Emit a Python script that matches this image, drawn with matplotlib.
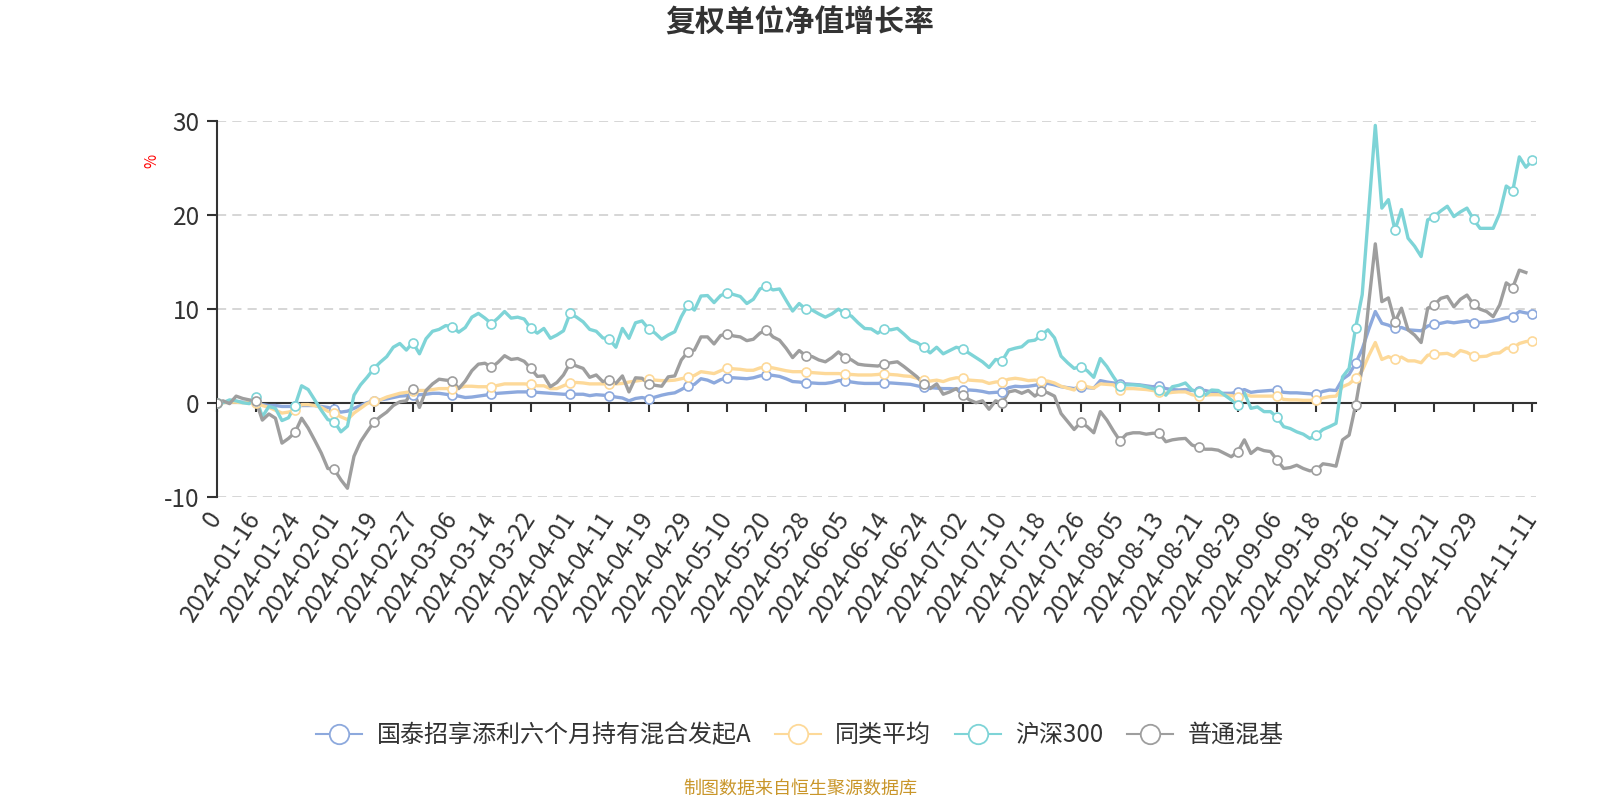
import numpy as np
import pandas as pd
import matplotlib
matplotlib.use("Agg")
import matplotlib.pyplot as plt
from matplotlib.lines import Line2D

plt.rcParams['font.family'] = ['Noto Sans CJK SC', 'DejaVu Sans']

# ---------------- data ----------------
holidays = ['2024-02-09', '2024-02-12', '2024-02-13', '2024-02-14', '2024-02-15', '2024-02-16',
            '2024-04-04', '2024-04-05', '2024-05-01', '2024-05-02', '2024-05-03', '2024-06-10',
            '2024-09-16', '2024-09-17', '2024-10-01', '2024-10-02', '2024-10-03', '2024-10-04',
            '2024-10-07']
trade_days = [d.strftime('%Y-%m-%d') for d in pd.bdate_range('2024-01-09', '2024-11-11')
              if d.strftime('%Y-%m-%d') not in holidays]
categories = ['0'] + trade_days

series_names = ['国泰招享添利六个月持有混合发起A', '同类平均', '沪深300', '普通混基']

fund = [0, 0.05, 0.1, 0.1, 0.05, 0.0, 0.1, -0.2, -0.3, -0.3, -0.4, -0.4, -0.4, -0.3, -0.3, -0.3, -0.4, -0.5, -0.7, -1.0, -0.9, -0.6, -0.3, 0.0, 0.2,
        0.3, 0.4, 0.55, 0.7, 0.75, 0.8, 0.85, 0.9, 1.0, 1.0, 0.9, 0.8, 0.7, 0.55, 0.6, 0.7, 0.8, 0.9, 1.0, 1.05, 1.1, 1.15, 1.15, 1.15, 1.1,
        1.05, 1.0, 0.95, 0.9, 0.9, 0.9, 0.9, 0.75, 0.85, 0.8, 0.75, 0.6, 0.5, 0.2, 0.45, 0.55, 0.4, 0.6, 0.8, 0.95, 1.05, 1.4, 1.8, 1.95, 2.55,
        2.4, 2.1, 2.45, 2.65, 2.65, 2.6, 2.55, 2.65, 2.85, 3.0, 2.9, 2.8, 2.55, 2.25, 2.2, 2.1, 2.1, 2.05, 2.05, 2.15, 2.35, 2.35, 2.2, 2.1, 2.05,
        2.05, 2.05, 2.1, 2.1, 2.05, 2.0, 1.95, 1.8, 1.65, 1.6, 1.55, 1.5, 1.5, 1.45, 1.4, 1.35, 1.3, 1.2, 1.05, 1.1, 1.15, 1.6, 1.75, 1.7, 1.75,
        1.85, 2.0, 2.05, 1.9, 1.7, 1.6, 1.5, 1.7, 1.6, 1.55, 2.35, 2.2, 2.1, 2.0, 2.0, 1.95, 1.9, 1.8, 1.7, 1.8, 1.5, 1.4, 1.35, 1.4, 1.3, 1.25,
        1.3, 1.15, 1.0, 1.0, 1.0, 1.15, 1.4, 1.1, 1.2, 1.25, 1.3, 1.35, 1.1, 1.05, 1.05, 1.0, 0.95, 0.9, 1.2, 1.35, 1.3, 2.5, 3.0, 4.2, 5.7,
        7.8, 9.7, 8.45, 8.25, 7.9, 8.0, 7.75, 7.7, 7.65, 8.15, 8.35, 8.45, 8.6, 8.5, 8.6, 8.7, 8.5, 8.55, 8.6, 8.7, 8.85, 9.05, 9.15, 9.7, 9.55, 9.45]

peer_avg = [0, 0.0, 0.05, 0.05, 0.0, 0.0, 0.0, -0.3, -0.5, -0.8, -1.1, -1.0, -0.8, -0.2, -0.2, -0.3, -0.5, -0.9, -1.1, -1.5, -1.8, -1.1, -0.6, -0.1, 0.2,
            0.3, 0.6, 0.8, 1.0, 1.1, 1.2, 1.3, 1.3, 1.4, 1.5, 1.5, 1.5, 1.6, 1.75, 1.75, 1.7, 1.7, 1.7, 1.85, 2.0, 2.0, 2.0, 2.0, 1.95, 1.8,
            1.8, 1.5, 1.5, 1.8, 2.1, 2.15, 2.1, 2.0, 2.0, 2.0, 2.0, 2.0, 2.05, 2.2, 2.3, 2.4, 2.5, 2.4, 2.35, 2.35, 2.4, 2.55, 2.7, 2.9, 3.3,
            3.2, 3.1, 3.4, 3.7, 3.6, 3.55, 3.45, 3.45, 3.7, 3.8, 3.7, 3.55, 3.4, 3.3, 3.3, 3.3, 3.2, 3.15, 3.1, 3.1, 3.1, 3.05, 3.0, 2.95, 2.95,
            2.95, 3.0, 3.1, 3.0, 2.95, 2.85, 2.8, 2.6, 2.4, 2.3, 2.4, 2.25, 2.5, 2.65, 2.65, 2.4, 2.35, 2.3, 2.05, 2.2, 2.25, 2.5, 2.6, 2.5, 2.35,
            2.4, 2.3, 2.3, 2.1, 1.75, 1.55, 1.35, 1.9, 1.7, 1.55, 2.0, 1.95, 1.9, 1.3, 1.5, 1.5, 1.45, 1.4, 1.3, 1.15, 1.0, 1.1, 1.15, 1.15, 0.85, 0.7,
            0.8, 0.85, 0.85, 0.8, 0.75, 0.65, 0.9, 0.7, 0.7, 0.7, 0.7, 0.7, 0.35, 0.3, 0.3, 0.25, 0.25, 0.3, 0.5, 0.65, 0.7, 1.7, 2.0, 2.6, 3.4,
            5.0, 6.4, 4.6, 4.9, 4.6, 4.85, 4.45, 4.45, 4.25, 5.05, 5.15, 5.2, 5.25, 4.95, 5.55, 5.35, 4.95, 4.9, 4.95, 5.25, 5.3, 5.8, 5.8, 6.3, 6.5, 6.6]

hs300 = [0, 0.0, 0.3, 0.2, 0.0, -0.1, 0.6, -1.5, -0.4, -0.6, -1.9, -1.6, -0.3, 1.8, 1.4, 0.3, -0.8, -1.8, -2.0, -3.1, -2.5, 0.8, 1.9, 2.7, 3.6,
         4.3, 4.9, 5.9, 6.3, 5.6, 6.4, 5.2, 6.8, 7.6, 7.8, 8.2, 8.1, 7.5, 8.0, 9.1, 9.5, 9.0, 8.4, 9.0, 9.7, 9.0, 9.1, 8.9, 7.9, 7.4,
         7.9, 6.85, 7.2, 7.65, 9.5, 9.1, 8.6, 7.8, 7.6, 6.9, 6.75, 5.9, 7.9, 6.85, 8.5, 8.7, 7.85, 7.4, 6.75, 7.2, 7.55, 9.15, 10.4, 9.85, 11.35,
         11.4, 10.65, 11.4, 11.7, 11.5, 11.3, 10.55, 11.0, 12.1, 12.4, 12.0, 12.1, 10.9, 9.75, 10.55, 9.95, 9.85, 9.45, 9.1, 9.45, 9.95, 9.5, 9.2, 8.5, 7.9,
         7.85, 7.4, 7.85, 7.75, 7.9, 7.3, 6.65, 6.4, 5.9, 5.3, 5.9, 5.2, 5.55, 5.9, 5.7, 5.25, 4.8, 4.35, 3.75, 4.6, 4.45, 5.6, 5.8, 5.95, 6.55,
         6.65, 7.2, 7.75, 6.9, 4.95, 4.25, 3.65, 3.85, 3.4, 2.7, 4.7, 3.85, 2.75, 1.75, 1.9, 1.9, 1.85, 1.7, 1.5, 1.4, 0.8, 1.7, 1.85, 2.1, 1.35, 1.15,
         0.8, 1.35, 1.3, 0.8, 0.3, -0.25, 1.05, -0.6, -0.45, -0.95, -0.95, -1.55, -2.55, -2.75, -3.1, -3.35, -3.8, -3.45, -2.85, -2.55, -2.2, 2.75, 3.65, 8.0, 11.5,
         20.5, 29.5, 20.7, 21.6, 18.35, 20.55, 17.5, 16.65, 15.55, 19.45, 19.8, 20.4, 20.9, 19.8, 20.3, 20.7, 19.5, 18.55, 18.55, 18.55, 20.15, 23.05, 22.55, 26.15, 25.05, 25.8]

mixed = [0, 0.2, -0.1, 0.7, 0.45, 0.3, 0.2, -1.85, -1.2, -1.65, -4.3, -3.8, -3.15, -1.65, -2.7, -4.0, -5.35, -7.0, -7.1, -8.2, -9.1, -5.7, -4.15, -3.1, -2.1,
         -1.5, -1.0, -0.3, 0.1, 0.2, 1.5, -0.5, 1.3, 2.0, 2.5, 2.4, 2.35, 1.5, 2.3, 3.4, 4.1, 4.2, 3.75, 4.3, 5.0, 4.6, 4.7, 4.4, 3.65, 2.8,
         2.85, 1.7, 2.15, 2.95, 4.2, 3.9, 3.65, 2.7, 2.95, 2.25, 2.4, 2.05, 2.85, 1.15, 2.65, 2.6, 2.0, 1.85, 1.75, 2.75, 2.85, 4.55, 5.4, 5.6, 7.0,
         7.0, 6.25, 7.15, 7.3, 7.1, 7.0, 6.6, 6.75, 7.4, 7.75, 7.0, 6.65, 5.8, 4.8, 5.55, 5.0, 4.9, 4.55, 4.35, 4.8, 5.4, 4.8, 4.55, 4.1, 4.0,
         3.95, 3.9, 4.1, 4.25, 4.35, 3.85, 3.3, 2.75, 2.0, 1.5, 2.0, 0.9, 1.15, 1.5, 0.8, 0.3, 0.0, 0.2, -0.7, 0.2, -0.05, 1.15, 1.3, 1.0, 1.3,
         0.7, 1.25, 1.05, 0.7, -1.15, -2.0, -2.85, -2.1, -2.55, -3.2, -0.95, -1.85, -3.0, -4.05, -3.35, -3.2, -3.2, -3.35, -3.25, -3.25, -4.15, -3.95, -3.85, -3.8, -4.5, -4.75,
         -4.95, -4.95, -5.05, -5.4, -5.75, -5.2, -3.95, -5.4, -4.85, -5.1, -5.2, -6.1, -7.0, -6.9, -6.65, -7.0, -7.25, -7.15, -6.5, -6.6, -6.75, -3.95, -3.45, -0.25, 3.8,
         10.6, 16.9, 10.75, 11.15, 8.6, 10.05, 7.75, 7.2, 6.4, 10.05, 10.4, 11.1, 11.3, 10.2, 11.0, 11.45, 10.45, 9.95, 9.7, 9.15, 10.4, 12.75, 12.25, 14.1, 13.85, None]

y_ticks = [-10, 0, 10, 20, 30]

colors = ['#8DA9DD', '#FDD999', '#7ED4D7', '#9E9E9E']

# ---------------- figure ----------------
W, H = 1600, 800
fig = plt.figure(figsize=(16, 8), dpi=100)
left, right = 216.5 / W, 1535.7 / W
top, bottom = 1 - 120.7 / H, 1 - 496.7 / H
ax = fig.add_axes([left, bottom, right - left, top - bottom])

all_series = [fund, peer_avg, hs300, mixed]
n = len(categories)
mark_idx = sorted(set(list(range(0, n, 6)) + [n - 1]))

for vals, c in zip(all_series, colors):
    y = np.array([np.nan if v is None else v for v in vals], dtype=float)
    xx = np.arange(len(y))
    ax.plot(xx, y, color=c, lw=2.4, solid_joinstyle='round', zorder=3)
    mi = [i for i in mark_idx if i < len(y) and not np.isnan(y[i])]
    ax.plot(xx[mi], y[mi], ls='none', marker='o', ms=6.5, mfc='white', mec=c, mew=1.2, zorder=4)

ax.set_xlim(0, n - 1 + 0.5)
ax.set_ylim(-10, 30)

for s in ['top', 'right']:
    ax.spines[s].set_visible(False)
ax.spines['left'].set_color('#333333')
ax.spines['left'].set_linewidth(1.5)
ax.spines['bottom'].set_position(('data', 0))
ax.spines['bottom'].set_color('#333333')
ax.spines['bottom'].set_linewidth(1.5)

for yv in y_ticks:
    if yv != 0:
        ax.axhline(yv, color='#cccccc', lw=1.1, ls=(0, (6, 4)), zorder=1)

ax.set_yticks(y_ticks)
ax.set_yticklabels([str(v) for v in y_ticks])
ax.tick_params(axis='y', length=7, width=1.5, color='#333333', labelsize=17.5,
               labelcolor='#333333', pad=5)

# ticks every 6 categories plus the last; labels every 6 up to the last full step, plus the last
tick_idx = sorted(set(list(range(0, n, 6)) + [n - 1]))
label_idx = set(range(0, n - 6, 6)) | {n - 1}
tick_lab = [categories[i] if i in label_idx else '' for i in tick_idx]
ax.set_xticks(tick_idx)
ax.tick_params(axis='x', direction='out', length=6.5, width=1.5, color='#333333', labelbottom=False)

sec = ax.secondary_xaxis('bottom')
sec.set_xticks(tick_idx)
sec.set_xticklabels(tick_lab, rotation=57, ha='right', va='center', rotation_mode='anchor',
                    fontsize=17.5, color='#333333')
sec.tick_params(axis='x', length=0, pad=12.5)
sec.spines['bottom'].set_visible(False)

# titles and texts
fig.text(0.5, 1 - 22.5 / H, '复权单位净值增长率', ha='center', va='center', fontsize=21.5,
         fontweight='bold', color='#333333')
fig.text(152 / W, 1 - 161 / H, '%', rotation=90, ha='center', va='center', fontsize=11, color='red')
fig.text(0.5, 1 - 789 / H, '制图数据来自恒生聚源数据库', ha='center', va='center', fontsize=13, color='#C9962A')

handles = [Line2D([0], [0], color=c, lw=1.5, marker='o', ms=14, mfc='white', mec=c, mew=1.3) for c in colors]
leg = fig.legend(handles, series_names, loc='center', bbox_to_anchor=(0.5, 1 - 735 / H), ncol=4,
                 frameon=False, fontsize=17.3, handlelength=1.9, handletextpad=0.6, columnspacing=1.0)
for t in leg.get_texts():
    t.set_color('#333333')

fig.savefig('out.png', dpi=100)
